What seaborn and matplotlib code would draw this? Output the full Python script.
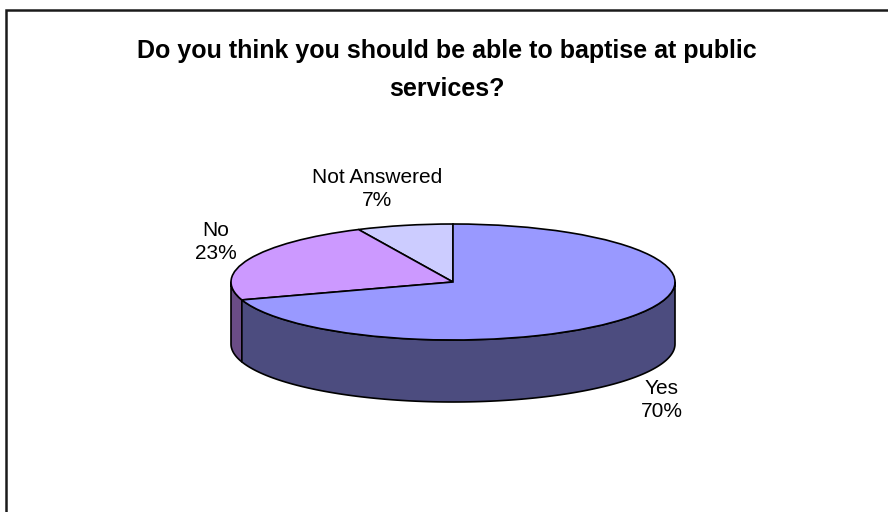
import matplotlib.pyplot as plt
import numpy as np
import seaborn as sns
from matplotlib.patches import Rectangle

# data
categories = ["Not Answered", "No", "Yes"]
percentages = [7, 23, 70]
top_colors = ["#CCCCFF", "#CC99FF", "#9999FF"]
side_colors = ["#66667F", "#6A4C86", "#4C4C7F"]
title = "Do you think you should be able to baptise at public\nservices?"

sns.set_theme(style="white")
plt.rcParams['font.family'] = ['Liberation Sans', 'DejaVu Sans']

W, H = 888, 512
fig = plt.figure(figsize=(W / 100, H / 100), dpi=100)
fig.patch.set_facecolor("white")

# pie geometry in pixels (centre of top face, semi-axes, depth)
cx, cy = 453, 282
rx, ry = 222, 58
depth = 62 / ry

ax = fig.add_axes([0, 0, 1, 1])

# side walls of the front half, built from the slice angles
total = sum(percentages)
start = 90.0
for val, col in zip(percentages, side_colors):
    t1 = start
    t2 = start + 360.0 * val / total
    start = t2
    for k in (0, 360):
        a = max(t1, 180 + k)
        b = min(t2, 360 + k)
        if a >= b:
            continue
        t = np.radians(np.linspace(a, b, 120))
        xs = np.concatenate([np.cos(t), np.cos(t[::-1])])
        ys = np.concatenate([np.sin(t), np.sin(t[::-1]) - depth])
        ax.fill(xs, ys, facecolor=col, edgecolor="black", linewidth=1.2,
                joinstyle="round", zorder=1)

# top face
ax.pie(percentages, colors=top_colors, startangle=90, counterclock=True,
       radius=1, wedgeprops=dict(edgecolor="black", linewidth=1.2))

ax.set_aspect("auto")
ax.set_xlim(-cx / rx, (W - cx) / rx)
ax.set_ylim(-(H - cy) / ry, cy / ry)
ax.axis("off")

# slice labels
label_pos = [(377, 189), (216, 242), (662, 400)]
for name, val, (px, py) in zip(categories, percentages, label_pos):
    fig.text(px / W, 1 - py / H, f"{name}\n{val}%", ha="center", va="center",
             fontsize=15, color="black", linespacing=1.25)

fig.text(447 / W, 1 - 70 / H, title, ha="center", va="center",
         fontsize=18, fontweight="bold", color="black", linespacing=1.7)

# chart-area border (cropped at right and bottom)
fig.add_artist(Rectangle((6 / W, -0.1), 1.2, 0.1 + 1 - 9.5 / H,
                         transform=fig.transFigure, fill=False,
                         edgecolor="#1a1a1a", linewidth=1.8))

fig.savefig("out.png", dpi=100, facecolor="white")
